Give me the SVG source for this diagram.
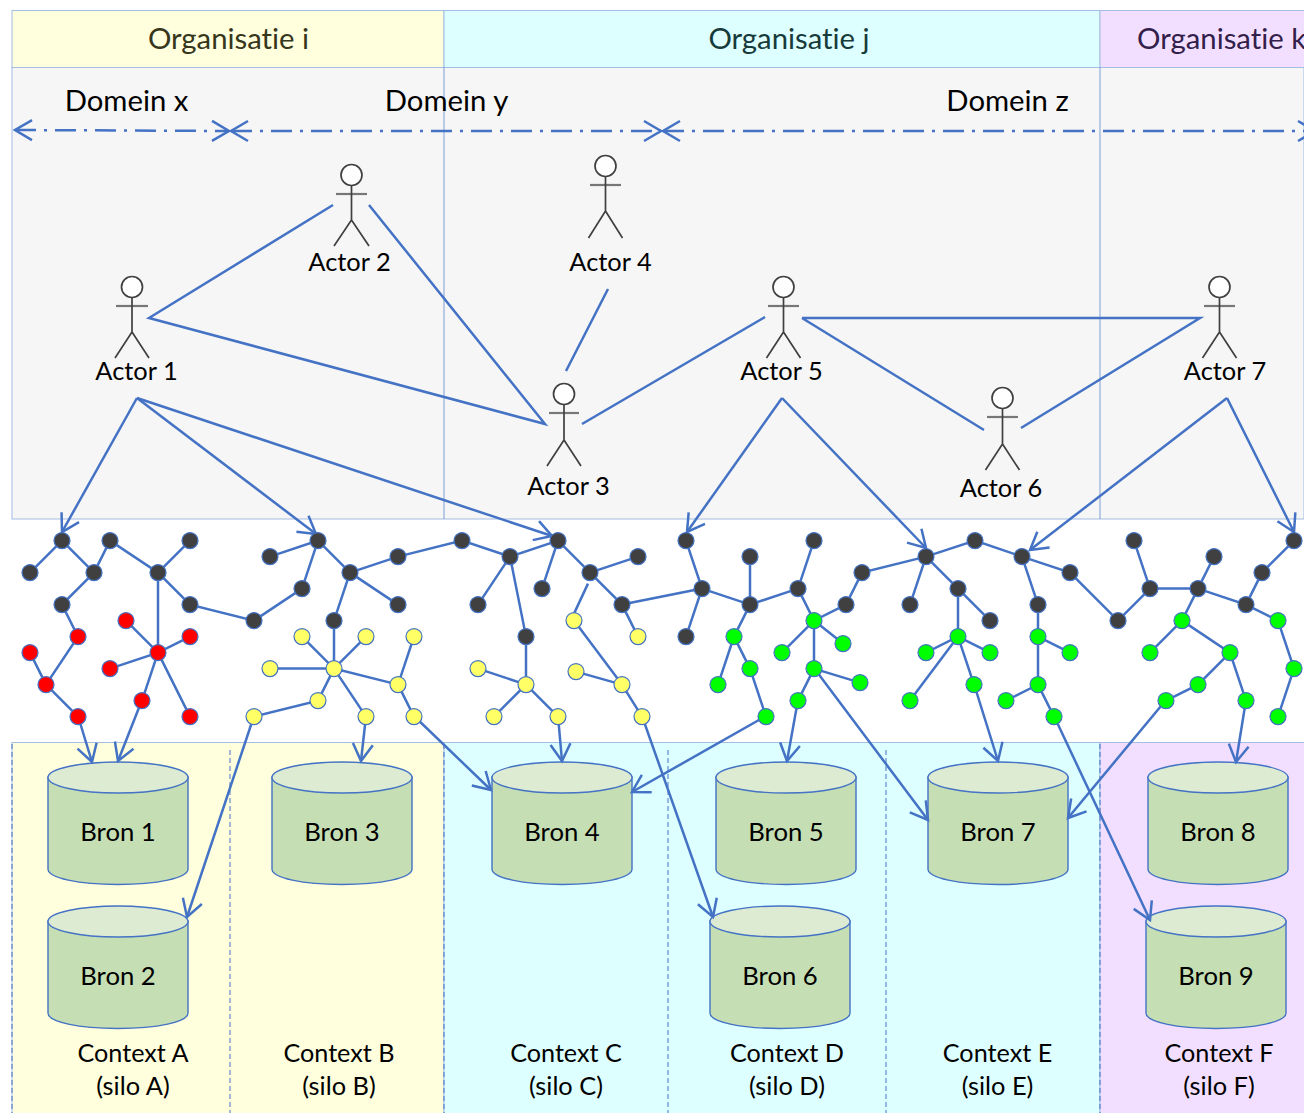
<svg xmlns="http://www.w3.org/2000/svg" width="1304" height="1113" viewBox="0 0 1304 1113">
<style>
text{font-family:"Lato","Carlito","Open Sans",sans-serif;fill:#000;text-anchor:middle;font-variant-ligatures:none}
.t26{font-size:25.7px}.t24{font-size:25.400px}.t25{font-size:25.200px}.t28{font-size:29.300px}
.band{stroke:#A3BDE3;stroke-width:1}
.sep{stroke:#4472C4;stroke-width:1;stroke-dasharray:5 3;fill:none}
.c line,.c path{stroke:#4472C4;stroke-width:2.5;fill:none}
.arr{marker-end:url(#open)}
.c .dom{stroke-dasharray:21 8 3 8;stroke-width:2.5;marker-start:url(#open);marker-end:url(#open)}
.act circle{fill:#fff;stroke:#404040;stroke-width:1.7}
.act path{fill:none;stroke:#404040;stroke-width:1.7}
.act path.arm{stroke:#777;stroke-width:2.2}
.d{fill:#404040}.r{fill:#f00}.y{fill:#ff6}.g{fill:#0f0}
.n circle{r:8;stroke:#4472C4;stroke-width:1.2}
.cyl .b{fill:#C5DEB3;stroke:#4472C4;stroke-width:1.4}
.cyl .e{fill:#DDEBD3;stroke:#4472C4;stroke-width:1.4}
.c .tree,.n{transform:translateY(.6px)}
</style>
<defs>
<marker id="open" markerUnits="userSpaceOnUse" markerWidth="24" markerHeight="26" viewBox="-20 -13 24 26" refX="0" refY="0" orient="auto-start-reverse"><path d="M-17,-10 L0,0 L-17,10" fill="none" stroke="#4472C4" stroke-width="2.5"/></marker>
</defs>
<g id="background">
<rect x="12" y="67" width="1292" height="452" fill="#F6F6F6" class="band"/>
<rect x="12" y="10.5" width="432" height="57" fill="#FFFFDD" class="band"/>
<rect x="444" y="10.5" width="656" height="57" fill="#DDFFFF" class="band"/>
<rect x="1100" y="10.5" width="210" height="57" fill="#F2DFFF" class="band"/>
<rect x="12" y="742.5" width="432" height="375" fill="#FFFFDD" class="band"/>
<rect x="444" y="742.5" width="656" height="375" fill="#DDFFFF" class="band"/>
<rect x="1100" y="742.5" width="210" height="375" fill="#F2DFFF" class="band"/>
<line x1="444" y1="67" x2="444" y2="519" class="band" style="stroke:#7F9FD6"/>
<line x1="1100" y1="67" x2="1100" y2="519" class="band" style="stroke:#7F9FD6"/>
<path class="sep" d="M12 744V1113M230 750V1113M444 744V1113M668 750V1113M886 750V1113M1100 744V1113"/>
<text x="228.500" y="49" class="t28" style="fill:#36361c">Organisatie i</text>
<text x="789" y="49" class="t28" style="fill:#173a3a">Organisatie j</text>
<text x="1137" y="49" class="t28" style="fill:#33204a;text-anchor:start">Organisatie k</text>
<text x="126.500" y="111" class="t28">Domein x</text>
<text x="446.500" y="111" class="t28">Domein y</text>
<text x="1007.500" y="111" class="t28">Domein z</text>
</g>
<g id="b1" class="cyl"><path class="b" d="M48 777V869C48 878 79 884.500 118 884.500S188 878 188 869V777Z"/><ellipse class="e" cx="118" cy="777.500" rx="70" ry="15.500"/><text x="118" y="841" class="t26">Bron 1</text></g>
<g id="b2" class="cyl"><path class="b" d="M48 921V1013C48 1022 79 1028.500 118 1028.500S188 1022 188 1013V921Z"/><ellipse class="e" cx="118" cy="921.500" rx="70" ry="15.500"/><text x="118" y="985" class="t26">Bron 2</text></g>
<g id="b3" class="cyl"><path class="b" d="M272 777V869C272 878 303 884.500 342 884.500S412 878 412 869V777Z"/><ellipse class="e" cx="342" cy="777.500" rx="70" ry="15.500"/><text x="342" y="841" class="t26">Bron 3</text></g>
<g id="b4" class="cyl"><path class="b" d="M492 777V869C492 878 523 884.500 562 884.500S632 878 632 869V777Z"/><ellipse class="e" cx="562" cy="777.500" rx="70" ry="15.500"/><text x="562" y="841" class="t26">Bron 4</text></g>
<g id="b5" class="cyl"><path class="b" d="M716 777V869C716 878 747 884.500 786 884.500S856 878 856 869V777Z"/><ellipse class="e" cx="786" cy="777.500" rx="70" ry="15.500"/><text x="786" y="841" class="t26">Bron 5</text></g>
<g id="b6" class="cyl"><path class="b" d="M710 921V1013C710 1022 741 1028.500 780 1028.500S850 1022 850 1013V921Z"/><ellipse class="e" cx="780" cy="921.500" rx="70" ry="15.500"/><text x="780" y="985" class="t26">Bron 6</text></g>
<g id="b7" class="cyl"><path class="b" d="M928 777V869C928 878 959 884.500 998 884.500S1068 878 1068 869V777Z"/><ellipse class="e" cx="998" cy="777.500" rx="70" ry="15.500"/><text x="998" y="841" class="t26">Bron 7</text></g>
<g id="b8" class="cyl"><path class="b" d="M1148 777V869C1148 878 1179 884.500 1218 884.500S1288 878 1288 869V777Z"/><ellipse class="e" cx="1218" cy="777.500" rx="70" ry="15.500"/><text x="1218" y="841" class="t26">Bron 8</text></g>
<g id="b9" class="cyl"><path class="b" d="M1146 921V1013C1146 1022 1177 1028.500 1216 1028.500S1286 1022 1286 1013V921Z"/><ellipse class="e" cx="1216" cy="921.500" rx="70" ry="15.500"/><text x="1216" y="985" class="t26">Bron 9</text></g>
<g id="contexts">
<text x="133" y="1062" class="t25">Context A</text><text x="133" y="1095" class="t24">(silo A)</text>
<text x="339" y="1062" class="t25">Context B</text><text x="339" y="1095" class="t24">(silo B)</text>
<text x="566" y="1062" class="t25">Context C</text><text x="566" y="1095" class="t24">(silo C)</text>
<text x="787" y="1062" class="t25">Context D</text><text x="787" y="1095" class="t24">(silo D)</text>
<text x="997.500" y="1062" class="t25">Context E</text><text x="997.500" y="1095" class="t24">(silo E)</text>
<text x="1219" y="1062" class="t25">Context F</text><text x="1219" y="1095" class="t24">(silo F)</text>
</g>
<g id="connectors" class="c">
<line class="dom" x1="15" y1="130" x2="229" y2="131"/>
<line class="dom" x1="231" y1="131" x2="661" y2="131"/>
<line class="dom" x1="663" y1="131" x2="1315" y2="131"/>
<path d="M333 205L149 318L545 424L369 205M608 289L566 371M582 424L765 317M802 318H1200L1021 428M802 318L984 430"/>
<path class="tree" d="M62 540L30 572M62 540L94 572L110 540L158 572L190 540M94 572L62 604L78 636L46 684L78 716M30 652L46 684M126 620L158 652L158 572L190 604L254 620L302 588L318 540L270 556M318 540L350 572L398 556L462 540L510 556L558 540L590 572L638 556M350 572L398 604M350 572L334 620L334 668M190 636L158 652L110 668M158 652L142 700M158 652L190 716"/>
<path class="tree" d="M302 636L334 668L366 636M270 668H334L398 684L414 636M398 684L414 716M334 668L318 700L254 716M334 668L366 716"/>
<path class="tree" d="M510 556L478 604M510 556L526 636V684L478 668M526 684L494 716M526 684L558 716M558 540L542 588M590 572L622 604L638 636M622 604L702 588L686 540M702 588L686 636M702 588L750 604V556M750 604L798 588L814 540M750 604L734 636L718 684M734 636L750 668L766 716M798 588L814 620L846 604L862 572L926 556L975 540L1022 556L1070 572L1118 620L1150 588L1134 540M814 620L782 652M814 620L843 643M814 620V668L860 682M814 668L798 700"/>
<path class="tree" d="M588 583L574 613M574 620L622 684L576 671M622 684L642 716"/>
<path class="tree" d="M926 556L910 604M926 556L958 588L990 620M958 588V636L926 652M958 636L990 652M958 636L910 700M958 636L974 684M1022 556L1038 604V684L1006 700M1038 636L1070 652M1038 684L1054 716"/>
<path class="tree" d="M1150 588H1198L1214 556M1198 588L1246 604L1262 572L1294 540M1198 588L1182 620L1150 652M1182 620L1230 652L1198 684L1166 700M1230 652L1246 700M1246 604L1278 620L1294 668L1278 716"/>
<line class="arr" x1="137" y1="398" x2="62" y2="532"/>
<line class="arr" x1="137" y1="398" x2="316" y2="534"/>
<line class="arr" x1="137" y1="398" x2="552" y2="536"/>
<line class="arr" x1="782" y1="398" x2="687" y2="532"/>
<line class="arr" x1="782" y1="398" x2="926" y2="548"/>
<line class="arr" x1="1227" y1="398" x2="1030" y2="550"/>
<line class="arr" x1="1227" y1="398" x2="1294" y2="532"/>
<line class="arr" x1="78" y1="716" x2="92" y2="762"/>
<line class="arr" x1="142" y1="700" x2="118" y2="761"/>
<line class="arr" x1="366" y1="716" x2="361" y2="761"/>
<line class="arr" x1="558" y1="716" x2="562" y2="761"/>
<line class="arr" x1="254" y1="716" x2="187" y2="917"/>
<line class="arr" x1="414" y1="716" x2="491" y2="790"/>
<line class="arr" x1="642" y1="716" x2="713" y2="917"/>
<line class="arr" x1="766" y1="716" x2="632" y2="792"/>
<line class="arr" x1="798" y1="700" x2="787" y2="761"/>
<line class="arr" x1="814" y1="668" x2="928" y2="820"/>
<line class="arr" x1="974" y1="684" x2="998" y2="761"/>
<line class="arr" x1="1054" y1="716" x2="1150" y2="920"/>
<line class="arr" x1="1166" y1="700" x2="1068" y2="818"/>
<line class="arr" x1="1246" y1="700" x2="1236" y2="762"/>
</g>
<g id="a1" class="act"><circle cx="132" cy="287" r="10.500"/><path class="arm" d="M116 306H148"/><path d="M132 298V332L115 358M132 332L149 358"/><text x="136.500" y="380" class="t24">Actor 1</text></g>
<g id="a2" class="act"><circle cx="351.500" cy="175" r="10.500"/><path class="arm" d="M336 194H367"/><path d="M351.500 186V220L334 246M351.500 220L369 246"/><text x="349.500" y="271" class="t24">Actor 2</text></g>
<g id="a3" class="act"><circle cx="564" cy="394" r="10.500"/><path class="arm" d="M549 413H579"/><path d="M564 405V440L547 466M564 440L581 466"/><text x="568.500" y="495" class="t24">Actor 3</text></g>
<g id="a4" class="act"><circle cx="605.500" cy="166" r="10.500"/><path class="arm" d="M590 185H621"/><path d="M605.500 177V211L588.500 238M605.500 211L622.500 238"/><text x="610.500" y="271" class="t24">Actor 4</text></g>
<g id="a5" class="act"><circle cx="783.500" cy="287" r="10.500"/><path class="arm" d="M768 306H799"/><path d="M783.500 298V332L766.500 358M783.500 332L800.500 358"/><text x="781.500" y="380" class="t24">Actor 5</text></g>
<g id="a6" class="act"><circle cx="1002.500" cy="398" r="10.500"/><path class="arm" d="M987 417H1018"/><path d="M1002.500 409V444L985.500 470M1002.500 444L1019.500 470"/><text x="1001" y="497" class="t24">Actor 6</text></g>
<g id="a7" class="act"><circle cx="1219.500" cy="287" r="10.500"/><path class="arm" d="M1204 306H1235"/><path d="M1219.500 298V332L1202.500 358M1219.500 332L1236.500 358"/><text x="1225" y="380" class="t24">Actor 7</text></g>
<g class="n" id="nodes">
<g id="n1"><circle class="d" cx="62" cy="540"/></g><g id="n2"><circle class="d" cx="30" cy="572"/></g><g id="n3"><circle class="d" cx="94" cy="572"/></g><g id="n4"><circle class="d" cx="110" cy="540"/></g><g id="n5"><circle class="d" cx="158" cy="572"/></g><g id="n6"><circle class="d" cx="190" cy="540"/></g><g id="n7"><circle class="d" cx="62" cy="604"/></g><g id="n8"><circle class="d" cx="190" cy="604"/></g><g id="n9"><circle class="d" cx="254" cy="620"/></g><g id="n10"><circle class="d" cx="302" cy="588"/></g><g id="n11"><circle class="d" cx="318" cy="540"/></g><g id="n12"><circle class="d" cx="270" cy="556"/></g><g id="n13"><circle class="d" cx="350" cy="572"/></g><g id="n14"><circle class="d" cx="398" cy="556"/></g><g id="n15"><circle class="d" cx="398" cy="604"/></g><g id="n16"><circle class="d" cx="334" cy="620"/></g>
<g id="n17"><circle class="r" cx="78" cy="636"/></g><g id="n18"><circle class="r" cx="30" cy="652"/></g><g id="n19"><circle class="r" cx="46" cy="684"/></g><g id="n20"><circle class="r" cx="78" cy="716"/></g><g id="n21"><circle class="r" cx="126" cy="620"/></g><g id="n22"><circle class="r" cx="190" cy="636"/></g><g id="n23"><circle class="r" cx="158" cy="652"/></g><g id="n24"><circle class="r" cx="110" cy="668"/></g><g id="n25"><circle class="r" cx="142" cy="700"/></g><g id="n26"><circle class="r" cx="190" cy="716"/></g>
<g id="n27"><circle class="y" cx="302" cy="636"/></g><g id="n28"><circle class="y" cx="366" cy="636"/></g><g id="n29"><circle class="y" cx="414" cy="636"/></g><g id="n30"><circle class="y" cx="270" cy="668"/></g><g id="n31"><circle class="y" cx="334" cy="668"/></g><g id="n32"><circle class="y" cx="398" cy="684"/></g><g id="n33"><circle class="y" cx="318" cy="700"/></g><g id="n34"><circle class="y" cx="254" cy="716"/></g><g id="n35"><circle class="y" cx="366" cy="716"/></g><g id="n36"><circle class="y" cx="414" cy="716"/></g>
<g id="n37"><circle class="d" cx="462" cy="540"/></g><g id="n38"><circle class="d" cx="510" cy="556"/></g><g id="n39"><circle class="d" cx="558" cy="540"/></g><g id="n40"><circle class="d" cx="590" cy="572"/></g><g id="n41"><circle class="d" cx="638" cy="556"/></g><g id="n42"><circle class="d" cx="542" cy="588"/></g><g id="n43"><circle class="d" cx="478" cy="604"/></g><g id="n44"><circle class="d" cx="622" cy="604"/></g><g id="n45"><circle class="d" cx="526" cy="636"/></g><g id="n46"><circle class="d" cx="686" cy="540"/></g><g id="n47"><circle class="d" cx="702" cy="588"/></g><g id="n48"><circle class="d" cx="750" cy="556"/></g><g id="n49"><circle class="d" cx="750" cy="604"/></g><g id="n50"><circle class="d" cx="814" cy="540"/></g><g id="n51"><circle class="d" cx="798" cy="588"/></g><g id="n52"><circle class="d" cx="846" cy="604"/></g><g id="n53"><circle class="d" cx="862" cy="572"/></g><g id="n54"><circle class="d" cx="686" cy="636"/></g>
<g id="n55"><circle class="y" cx="574" cy="620"/></g><g id="n56"><circle class="y" cx="638" cy="636"/></g><g id="n57"><circle class="y" cx="478" cy="668"/></g><g id="n58"><circle class="y" cx="526" cy="684"/></g><g id="n59"><circle class="y" cx="494" cy="716"/></g><g id="n60"><circle class="y" cx="558" cy="716"/></g><g id="n61"><circle class="y" cx="576" cy="671"/></g><g id="n62"><circle class="y" cx="622" cy="684"/></g><g id="n63"><circle class="y" cx="642" cy="716"/></g>
<g id="n64"><circle class="g" cx="734" cy="636"/></g><g id="n65"><circle class="g" cx="750" cy="668"/></g><g id="n66"><circle class="g" cx="718" cy="684"/></g><g id="n67"><circle class="g" cx="766" cy="716"/></g><g id="n68"><circle class="g" cx="814" cy="620"/></g><g id="n69"><circle class="g" cx="782" cy="652"/></g><g id="n70"><circle class="g" cx="843" cy="643"/></g><g id="n71"><circle class="g" cx="814" cy="668"/></g><g id="n72"><circle class="g" cx="860" cy="682"/></g><g id="n73"><circle class="g" cx="798" cy="700"/></g>
<g id="n74"><circle class="d" cx="926" cy="556"/></g><g id="n75"><circle class="d" cx="975" cy="540"/></g><g id="n76"><circle class="d" cx="1022" cy="556"/></g><g id="n77"><circle class="d" cx="1070" cy="572"/></g><g id="n78"><circle class="d" cx="910" cy="604"/></g><g id="n79"><circle class="d" cx="958" cy="588"/></g><g id="n80"><circle class="d" cx="990" cy="620"/></g><g id="n81"><circle class="d" cx="1038" cy="604"/></g><g id="n82"><circle class="d" cx="1118" cy="620"/></g><g id="n83"><circle class="d" cx="1134" cy="540"/></g><g id="n84"><circle class="d" cx="1150" cy="588"/></g><g id="n85"><circle class="d" cx="1198" cy="588"/></g><g id="n86"><circle class="d" cx="1214" cy="556"/></g><g id="n87"><circle class="d" cx="1246" cy="604"/></g><g id="n88"><circle class="d" cx="1262" cy="572"/></g><g id="n89"><circle class="d" cx="1294" cy="540"/></g>
<g id="n90"><circle class="g" cx="958" cy="636"/></g><g id="n91"><circle class="g" cx="926" cy="652"/></g><g id="n92"><circle class="g" cx="990" cy="652"/></g><g id="n93"><circle class="g" cx="910" cy="700"/></g><g id="n94"><circle class="g" cx="974" cy="684"/></g><g id="n95"><circle class="g" cx="1038" cy="636"/></g><g id="n96"><circle class="g" cx="1070" cy="652"/></g><g id="n97"><circle class="g" cx="1038" cy="684"/></g><g id="n98"><circle class="g" cx="1006" cy="700"/></g><g id="n99"><circle class="g" cx="1054" cy="716"/></g><g id="n100"><circle class="g" cx="1182" cy="620"/></g><g id="n101"><circle class="g" cx="1150" cy="652"/></g><g id="n102"><circle class="g" cx="1230" cy="652"/></g><g id="n103"><circle class="g" cx="1198" cy="684"/></g><g id="n104"><circle class="g" cx="1166" cy="700"/></g><g id="n105"><circle class="g" cx="1246" cy="700"/></g><g id="n106"><circle class="g" cx="1278" cy="620"/></g><g id="n107"><circle class="g" cx="1294" cy="668"/></g><g id="n108"><circle class="g" cx="1278" cy="716"/></g>
</g>
</svg>
